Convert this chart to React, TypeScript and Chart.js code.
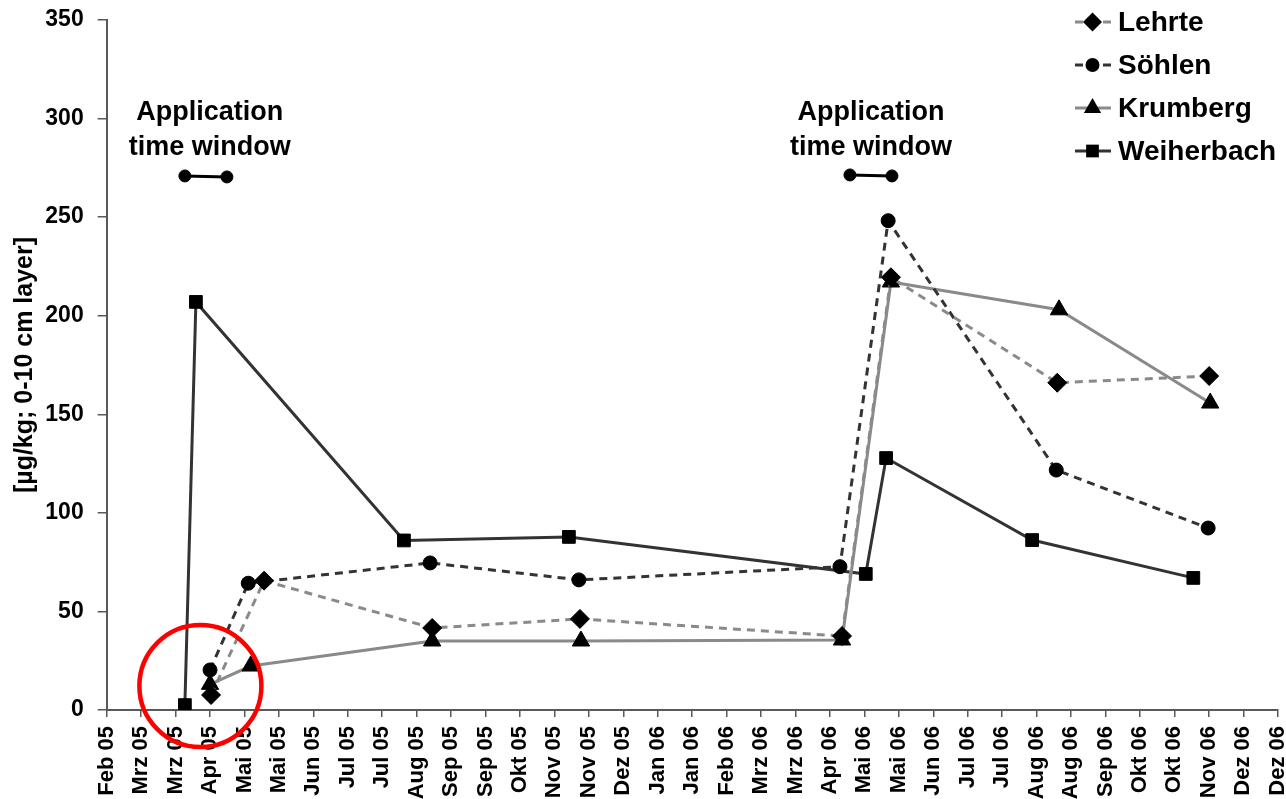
import React, { useEffect, useRef } from 'react';
import { Chart, registerables } from 'chart.js';

Chart.register(...registerables);

// x positions are expressed in units of the axis tick index (0 = "Feb 05")
const xTickLabels = [
  'Feb 05', 'Mrz 05', 'Mrz 05', 'Apr 05', 'Mai 05', 'Mai 05', 'Jun 05', 'Jul 05', 'Jul 05',
  'Aug 05', 'Sep 05', 'Sep 05', 'Okt 05', 'Nov 05', 'Nov 05', 'Dez 05', 'Jan 06', 'Jan 06',
  'Feb 06', 'Mrz 06', 'Mrz 06', 'Apr 06', 'Mai 06', 'Mai 06', 'Jun 06', 'Jul 06', 'Jul 06',
  'Aug 06', 'Aug 06', 'Sep 06', 'Okt 06', 'Okt 06', 'Nov 06', 'Dez 06', 'Dez 06',
];
const yTickValues = [0, 50, 100, 150, 200, 250, 300, 350];

const seriesNames = ['Lehrte', 'Söhlen', 'Krumberg', 'Weiherbach'];

const lehrteX = [3.03, 4.57, 9.45, 13.74, 21.35, 22.77, 27.6, 32.01];
const lehrteY = [7.6, 65.6, 41.6, 46.2, 37.5, 219.5, 166, 169.4];

const soehlenX = [3.0, 4.11, 9.39, 13.71, 21.29, 22.69, 27.57, 31.98];
const soehlenY = [20.3, 64.3, 74.6, 66, 72.7, 248.2, 121.7, 92.3];

const krumbergX = [3.0, 4.18, 9.45, 13.77, 21.35, 22.77, 27.65, 32.04];
const krumbergY = [13, 22.3, 35, 35, 35.5, 217.1, 203, 155.7];

const weiherbachX = [2.27, 2.59, 8.63, 13.42, 22.04, 22.63, 26.87, 31.55];
const weiherbachY = [2.5, 207, 86, 87.8, 69, 127.8, 86.2, 67];

// application time windows (start, end) pairs
const windowX = [2.27, 3.49, 21.58, 22.8];
const windowY = [270.9, 270.4, 271.4, 270.9];

const annotationLines = ['Application', 'time window'];
const annotationX = [2.99, 22.19];
const annotationLineY = [303.3, 285.1];

// highlight circle (centre in data units)
const highlightX = [2.72];
const highlightY = [12.2];

const FONT = "'Liberation Sans', Arial, Helvetica, sans-serif";
const DARK = '#333333';
const GRAY = '#8a8a8a';
const AXIS = '#595959';

function pts(xs: number[], ys: number[]) {
  return xs.map((x, i) => ({ x, y: ys[i] }));
}

function drawMarker(ctx: CanvasRenderingContext2D, style: string, x: number, y: number, r: number) {
  ctx.beginPath();
  if (style === 'circle') {
    ctx.arc(x, y, r, 0, Math.PI * 2);
  } else if (style === 'rectRot') {
    ctx.moveTo(x, y - r);
    ctx.lineTo(x + r, y);
    ctx.lineTo(x, y + r);
    ctx.lineTo(x - r, y);
    ctx.closePath();
  } else if (style === 'triangle') {
    ctx.moveTo(x, y - r);
    ctx.lineTo(x + r * Math.sin((2 * Math.PI) / 3), y + r / 2);
    ctx.lineTo(x - r * Math.sin((2 * Math.PI) / 3), y + r / 2);
    ctx.closePath();
  } else {
    const s = Math.SQRT1_2 * r;
    ctx.rect(x - s, y - s, 2 * s, 2 * s);
  }
  ctx.fill();
}

const overlayPlugin = {
  id: 'overlay',
  afterDraw(chart: any) {
    const ctx: CanvasRenderingContext2D = chart.ctx;
    const xs = chart.scales.x;
    const ys = chart.scales.y;
    ctx.save();
    // annotation text
    ctx.fillStyle = '#000';
    ctx.font = `bold 27px ${FONT}`;
    ctx.textAlign = 'center';
    ctx.textBaseline = 'middle';
    annotationX.forEach((ax) => {
      annotationLines.forEach((line, li) => {
        ctx.fillText(line, xs.getPixelForValue(ax), ys.getPixelForValue(annotationLineY[li]));
      });
    });
    // legend
    const legendLeft = 1075;
    const rowTop = 22;
    const rowGap = 43;
    chart.data.datasets.forEach((ds: any) => {
      const idx = seriesNames.indexOf(ds.label);
      if (idx < 0) return;
      const y = rowTop + idx * rowGap;
      ctx.save();
      ctx.strokeStyle = ds.borderColor;
      ctx.lineWidth = ds.borderWidth;
      ctx.setLineDash(ds.borderDash || []);
      ctx.beginPath();
      ctx.moveTo(legendLeft, y);
      ctx.lineTo(legendLeft + 36, y);
      ctx.stroke();
      ctx.setLineDash([]);
      ctx.fillStyle = '#000';
      drawMarker(ctx, ds.pointStyle, legendLeft + 17.5, y, ds.pointRadius);
      ctx.restore();
      ctx.fillStyle = '#000';
      ctx.font = `bold 28px ${FONT}`;
      ctx.textAlign = 'left';
      ctx.textBaseline = 'middle';
      ctx.fillText(ds.label, legendLeft + 43, y + 1);
    });
    ctx.restore();
  },
};

export default function App() {
  const ref = useRef<HTMLCanvasElement | null>(null);

  useEffect(() => {
    const canvas = ref.current;
    if (!canvas) return;
    const common = {
      borderWidth: 3,
      pointBackgroundColor: '#000',
      pointBorderColor: '#000',
      pointBorderWidth: 1,
      tension: 0,
      fill: false,
    };
    const chart = new Chart(canvas, {
      type: 'line',
      data: {
        datasets: [
          {
            label: 'highlight',
            data: pts(highlightX, highlightY),
            showLine: false,
            pointStyle: 'circle',
            pointRadius: 61,
            pointBorderWidth: 4.5,
            pointBorderColor: '#ff0000',
            pointBackgroundColor: 'rgba(0,0,0,0)',
            clip: false,
            order: -1,
          } as any,
          {
            ...common,
            label: 'Lehrte',
            data: pts(lehrteX, lehrteY),
            borderColor: GRAY,
            borderDash: [8, 6],
            pointStyle: 'rectRot',
            pointRadius: 9.5,
            order: 1,
          },
          {
            ...common,
            label: 'Söhlen',
            data: pts(soehlenX, soehlenY),
            borderColor: DARK,
            borderDash: [8, 6],
            pointStyle: 'circle',
            pointRadius: 7,
            order: 2,
          },
          {
            ...common,
            label: 'Krumberg',
            data: pts(krumbergX, krumbergY),
            borderColor: GRAY,
            pointStyle: 'triangle',
            pointRadius: 10,
            order: 3,
          },
          {
            ...common,
            label: 'Weiherbach',
            data: pts(weiherbachX, weiherbachY),
            borderColor: DARK,
            pointStyle: 'rect',
            pointRadius: 9,
            order: 4,
          },
          {
            ...common,
            label: 'window',
            data: [
              ...pts(windowX.slice(0, 2), windowY.slice(0, 2)),
              { x: (windowX[1] + windowX[2]) / 2, y: null },
              ...pts(windowX.slice(2), windowY.slice(2)),
            ],
            spanGaps: false,
            borderColor: '#000',
            pointStyle: 'circle',
            pointRadius: 6,
            order: 0,
          } as any,
        ],
      },
      options: {
        animation: false,
        responsive: false,
        devicePixelRatio: 1,
        layout: { autoPadding: false, padding: { left: 0, right: 8.3, top: 20, bottom: 0 } },
        plugins: {
          legend: { display: false },
          tooltip: { enabled: false },
        },
        scales: {
          x: {
            type: 'linear',
            min: 0,
            max: xTickLabels.length - 1,
            afterBuildTicks: (s: any) => {
              s.ticks = xTickLabels.map((_, i) => ({ value: i }));
            },
            afterFit: (s: any) => {
              s.height = 89;
              s.paddingLeft = 0;
              s.paddingRight = 0;
              s.paddingTop = 0;
              s.paddingBottom = 0;
            },
            ticks: {
              autoSkip: false,
              minRotation: 90,
              maxRotation: 90,
              padding: 9,
              color: '#000',
              font: { family: FONT, size: 22, weight: 'bold' },
              callback: (v: any) => xTickLabels[Math.round(Number(v))],
            },
            grid: { drawOnChartArea: false, drawTicks: true, tickLength: 7, color: AXIS, lineWidth: 1.5 },
            border: { color: AXIS, width: 2 },
          },
          y: {
            type: 'linear',
            min: 0,
            max: 350,
            afterBuildTicks: (s: any) => {
              s.ticks = yTickValues.map((v) => ({ value: v }));
            },
            afterFit: (s: any) => {
              s.width = 106.7;
              s.paddingTop = 0;
              s.paddingBottom = 0;
              s.paddingLeft = 0;
              s.paddingRight = 0;
            },
            ticks: {
              padding: 14,
              color: '#000',
              font: { family: FONT, size: 23, weight: 'bold' },
            },
            grid: { drawOnChartArea: false, drawTicks: true, tickLength: 9, color: AXIS, lineWidth: 1.5 },
            border: { color: AXIS, width: 2 },
            title: {
              display: true,
              text: '[µg/kg; 0-10 cm layer]',
              color: '#000',
              font: { family: FONT, size: 25, weight: 'bold' },
              padding: { top: 10, bottom: 0 },
            },
          },
        },
      } as any,
      plugins: [overlayPlugin],
    });
    return () => chart.destroy();
  }, []);

  return (
    <div style={{ position: 'fixed', left: 0, top: 0, width: 1286, height: 799, background: '#fff' }}>
      <canvas ref={ref} width={1286} height={799} style={{ width: 1286, height: 799, display: 'block' }} />
    </div>
  );
}
